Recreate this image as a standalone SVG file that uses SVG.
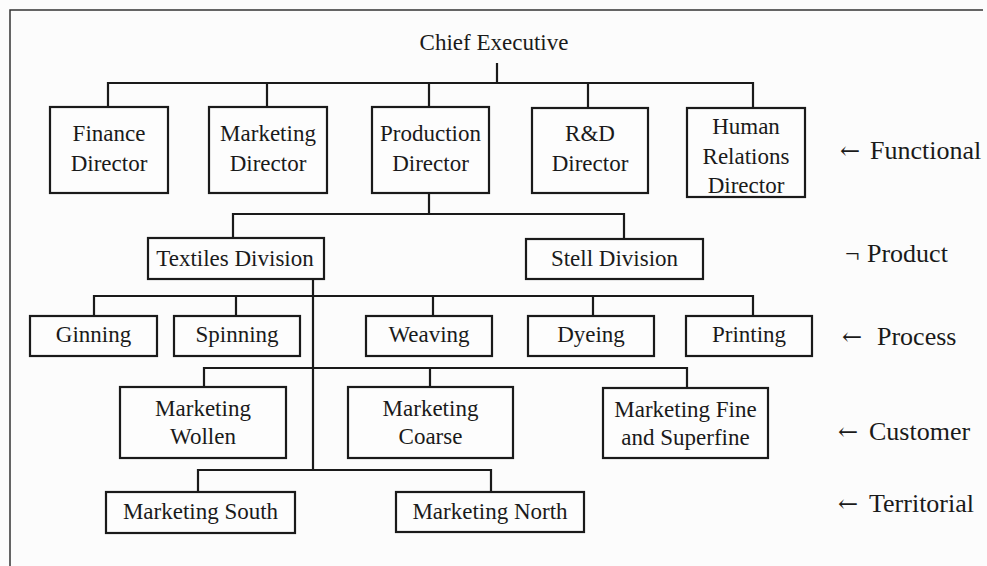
<svg xmlns="http://www.w3.org/2000/svg" width="987" height="566" viewBox="0 0 987 566">
<style>
.bg{fill:#fcfcfc}
.frame{fill:none;stroke:#333;stroke-width:1.5}
rect.box{fill:#fdfdfd;stroke:#1a1a1a;stroke-width:2.2}
.c path{fill:none;stroke:#1a1a1a;stroke-width:2.2}
text{font-family:"Liberation Serif","Times New Roman",serif;font-size:23px;fill:#1a1a1a;text-anchor:middle}
text.lab{font-size:26px;text-anchor:start}
tspan.ar{font-family:"DejaVu Serif","DejaVu Sans",serif;font-size:24px}
</style>
<rect class="bg" x="0" y="0" width="987" height="566"/>
<path class="frame" d="M10,566 V10 H983"/>
<g id="connectors" class="c">
<path d="M497,63 V83 M108,107 V83 H753 V108 M267,83 V107 M429,83 V107 M588,83 V108"/>
<path d="M429,193 V214 M233,238 V214 H624 V239"/>
<path d="M313,279 V470"/>
<path d="M94,316 V296 H753 V316 M236,296 V316 M433,296 V316 M593,296 V316"/>
<path d="M204,387 V368 H687 V388 M430,368 V387"/>
<path d="M198,492 V470 H491 V492"/>
</g>
<g id="chief"><text x="494" y="50">Chief Executive</text></g>
<g id="finance"><rect class="box" x="50" y="107" width="118" height="86"/><text x="109" y="141">Finance</text><text x="109" y="171">Director</text></g>
<g id="marketing"><rect class="box" x="209" y="107" width="118" height="86"/><text x="268" y="141">Marketing</text><text x="268" y="171">Director</text></g>
<g id="production"><rect class="box" x="372" y="107" width="117" height="86"/><text x="430.5" y="141">Production</text><text x="430.5" y="171">Director</text></g>
<g id="rnd"><rect class="box" x="532" y="108" width="116" height="85"/><text x="590" y="141">R&amp;D</text><text x="590" y="171">Director</text></g>
<g id="hr"><rect class="box" x="687" y="108" width="118" height="89"/><text x="746" y="134">Human</text><text x="746" y="164">Relations</text><text x="746" y="193">Director</text></g>
<g id="textiles"><rect class="box" x="148" y="238" width="176" height="41"/><text x="235" y="266">Textiles Division</text></g>
<g id="stell"><rect class="box" x="526" y="239" width="177" height="40"/><text x="614.5" y="266">Stell Division</text></g>
<g id="ginning"><rect class="box" x="30" y="316" width="127" height="40"/><text x="93.5" y="342">Ginning</text></g>
<g id="spinning"><rect class="box" x="174" y="316" width="126" height="40"/><text x="237" y="342">Spinning</text></g>
<g id="weaving"><rect class="box" x="366" y="316" width="126" height="40"/><text x="429" y="342">Weaving</text></g>
<g id="dyeing"><rect class="box" x="528" y="316" width="126" height="40"/><text x="591" y="342">Dyeing</text></g>
<g id="printing"><rect class="box" x="686" y="316" width="126" height="40"/><text x="749" y="342">Printing</text></g>
<g id="wollen"><rect class="box" x="120" y="387" width="166" height="71"/><text x="203" y="416">Marketing</text><text x="203" y="444">Wollen</text></g>
<g id="coarse"><rect class="box" x="348" y="387" width="165" height="71"/><text x="430.5" y="416">Marketing</text><text x="430.5" y="444">Coarse</text></g>
<g id="fine"><rect class="box" x="603" y="388" width="165" height="70"/><text x="685.5" y="417">Marketing Fine</text><text x="685.5" y="445">and Superfine</text></g>
<g id="south"><rect class="box" x="106" y="492" width="189" height="41"/><text x="200.5" y="519">Marketing South</text></g>
<g id="north"><rect class="box" x="396" y="492" width="188" height="40"/><text x="490" y="519">Marketing North</text></g>
<g id="labels">
<text class="lab" x="840" y="159"><tspan class="ar">←</tspan> <tspan x="870">Functional</tspan></text>
<text class="lab" x="845" y="262">¬ <tspan x="867">Product</tspan></text>
<text class="lab" x="842" y="345"><tspan class="ar">←</tspan> <tspan x="877">Process</tspan></text>
<text class="lab" x="838" y="440"><tspan class="ar">←</tspan> <tspan x="869">Customer</tspan></text>
<text class="lab" x="838" y="512"><tspan class="ar">←</tspan> <tspan x="869">Territorial</tspan></text>
</g>
</svg>
